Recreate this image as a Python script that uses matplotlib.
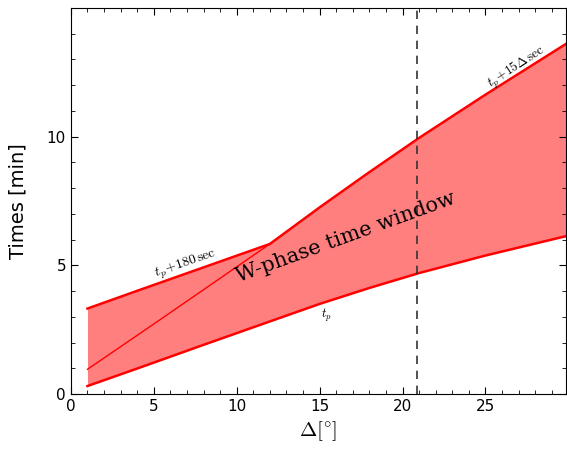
import matplotlib
matplotlib.use('Agg')
import matplotlib.pyplot as plt
from matplotlib.ticker import MultipleLocator

plt.rcParams['mathtext.fontset'] = 'cm'

# epicentral distance (deg) and times (min)
dist = [1, 4, 8, 12, 15, 18, 21, 25, 29.9]
t_p = [0.31, 0.99, 1.91, 2.82, 3.5, 4.12, 4.70, 5.38, 6.14]
t_end = [3.32, 4.01, 4.92, 5.83, 7.25, 8.62, 9.95, 11.63, 13.62]  # max(tp+180s, tp+15*dist s)

# tp + 15*dist sec below the crossing point
dist_short = [1, 5, 12]
t_short = [0.96, 2.72, 5.83]

cutoff = 20.9

fig = plt.figure(figsize=(5.67, 4.5), dpi=100)
ax = fig.add_axes([0.125, 0.1244, 0.873, 0.858])

ax.fill_between(dist, t_p, t_end, color='red', alpha=0.5, lw=0)
ax.plot(dist, t_p, color='red', lw=1.8)
ax.plot(dist, t_end, color='red', lw=1.8)
ax.plot(dist_short, t_short, color='red', lw=1)
ax.axvline(cutoff, color='#333333', ls='--', lw=1.2, dashes=(5, 4))

ax.text(6.9, 5.05, r'$t_p\!+\!180\,\mathrm{sec}$', rotation=19, fontsize=10,
        ha='center', va='center')
ax.text(15.4, 3.05, r'$t_p$', fontsize=9, ha='center', va='center')
ax.text(26.9, 12.7, r'$t_p\!+\!15\Delta\,\mathrm{sec}$', rotation=33, fontsize=9.5,
        ha='center', va='center')
ax.text(16.6, 6.1, 'W-phase time window', family='DejaVu Serif', fontsize=15,
        rotation=20, ha='center', va='center')

ax.set_xlim(0, 29.85)
ax.set_ylim(0, 15)
ax.set_xticks([0, 5, 10, 15, 20, 25])
ax.set_yticks([0, 5, 10])
ax.xaxis.set_minor_locator(MultipleLocator(1))
ax.yaxis.set_minor_locator(MultipleLocator(1))
ax.tick_params(which='both', direction='in', top=True, right=True, labelsize=11)
ax.tick_params(which='major', length=5)
ax.tick_params(which='minor', length=3)

ax.set_xlabel(r'$\Delta[^{\circ}]$', fontsize=15)
ax.set_ylabel('Times [min]', fontsize=14, labelpad=14)

fig.savefig('out.png', dpi=100)
